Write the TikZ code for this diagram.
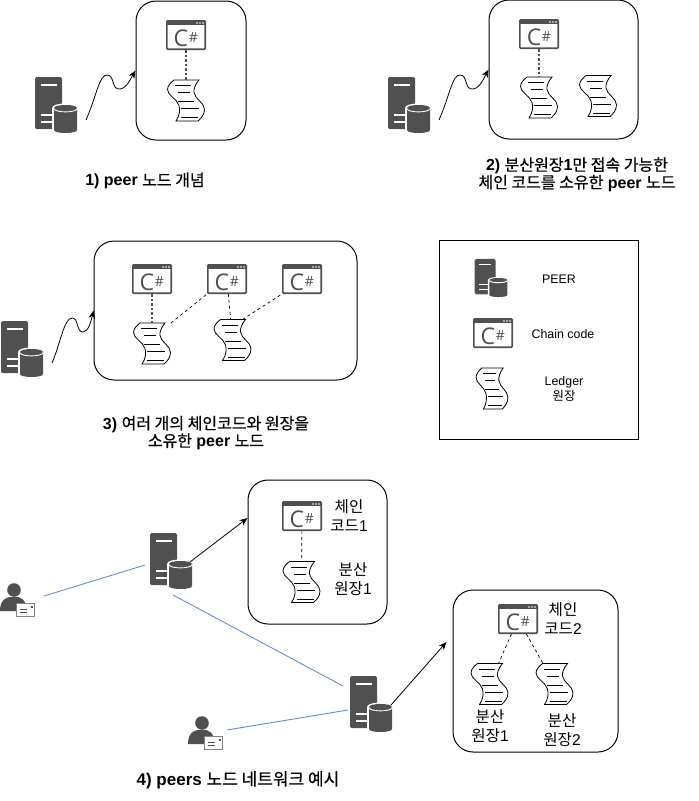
\documentclass[tikz,border=0pt]{standalone}
\usepackage{fontspec}
\setmainfont{Liberation Sans}
\newfontfamily\krfont{Noto Sans CJK KR}[BoldFont = {Noto Sans CJK KR}, BoldFeatures = {FakeBold = 0.5}]
\newfontfamily\iconfont{Open Sans}
\newcommand{\kr}[1]{{\krfont #1}}
\usetikzlibrary{arrows.meta}
\definecolor{icongrey}{HTML}{505050}
\definecolor{linkblue}{HTML}{6C8EBF}

\tikzset{
  panel/.style = {draw, line width = 1pt, rounded corners = 20pt, inner sep = 0pt},
  caption/.style = {align = center, font = \fontsize{16}{17.5}\selectfont\bfseries},
  legendtext/.style = {align = center, font = \fontsize{12.4}{14.5}\selectfont},
  boxtext/.style = {align = center, font = \fontsize{15.6}{19}\selectfont},
  dashlink/.style = {dashed, dash pattern = on 3pt off 3pt, line width = 0.7pt},
  greylink/.style = {dashlink, draw = icongrey, line width = 1.3pt, dash pattern = on 2.5pt off 2pt},
  bluelink/.style = {draw = linkblue, line width = 0.9pt},
  arrowlink/.style = {line width = 0.8pt, -{Stealth[length = 8pt, width = 6.5pt]}},
  iconbox/.style = {inner sep = 0pt, outer sep = 0pt},
  pics/peer/.style = {code = {
    \node (-b) [iconbox, minimum width = 42pt, minimum height = 56pt] at (0,0) {};
    \fill [icongrey, rounded corners = 1.5pt] (-21,-28) rectangle (6,24);
    \fill [white] (-15.5,-21) rectangle (0.5,-19);
    \fill [white] (-15.5,9) rectangle (-3,11);
    \fill [white] (-15.5,16) rectangle (-3,18);
    \fill [white] (-4,3) .. controls (-4,-3) and (23,-3) .. (23,3) -- (23,26) -- (-4,26) -- cycle;
    \fill [icongrey] (-2,3) .. controls (-2,-1) and (21,-1) .. (21,3) -- (21,25) .. controls (21,29) and (-2,29) .. (-2,25) -- cycle;
    \draw [white, line width = 0.9pt] (-2,3.5) .. controls (-2,8) and (21,8) .. (21,3.5);
  }},
  pics/csharp/.style = {code = {
    \node (-b) [iconbox, minimum width = 40pt, minimum height = 30pt] at (0,0) {};
    \draw [fill = white, draw = icongrey, line width = 1.6pt, rounded corners = 1pt] (-19.2,-14.2) rectangle (19.2,14.2);
    \fill [icongrey] (-19.2,-14.2) rectangle (19.2,-9.6);
    \foreach \dotx in {11,14,17} {\fill [white] (\dotx,-12) circle (0.8);}
    \node [iconbox, text = icongrey, font = \iconfont\fontsize{23}{23}\selectfont] at (-5,3) {C};
    \node [iconbox, text = icongrey, font = \iconfont\fontsize{14}{14}\selectfont] at (7.5,2) {\#};
  }},
  pics/ledger/.style = {code = {
    \node (-b) [iconbox, minimum width = 38pt, minimum height = 41pt] at (0,0) {};
    \draw [fill = white, line width = 0.8pt] (-12,-20.5) -- (13,-20.5)
      .. controls (9,-16) and (7.5,-11) .. (8,-8) .. controls (9,-1) and (18.5,2) .. (18.5,9)
      .. controls (18.5,14) and (15,18) .. (12,20.5) -- (-10,20.5)
      .. controls (-6,15) and (-6,9) .. (-7,5) .. controls (-9,-2) and (-18.5,-5) .. (-18.5,-11)
      .. controls (-18.5,-15) and (-15,-18) .. (-12,-20.5) -- cycle;
    \draw [line width = 0.8pt] (-11,-15) -- (5,-15);
    \draw [line width = 0.8pt] (-8,-8) -- (4,-8);
    \draw [line width = 0.8pt] (-8,1) -- (8,1);
    \draw [line width = 0.8pt] (-5,8) -- (13,8);
    \draw [line width = 0.8pt] (-5,17) -- (12,17);
  }},
  pics/client/.style = {code = {
    \node (-b) [iconbox, minimum width = 35pt, minimum height = 34pt] at (0,0) {};
    \fill [icongrey] (-3.5,-10) circle (6.8);
    \fill [icongrey] (-17.5,11) .. controls (-17.5,0) and (-12,-2) .. (-8,-3) -- (1,-3) .. controls (4,-2) and (7,0) .. (8,4) -- (-1,4) -- (-1,11) -- cycle;
    \draw [fill = white, draw = icongrey!70, line width = 1pt] (-1,3.5) rectangle (17,16);
    \fill [icongrey] (13,5.5) rectangle (15,7.5);
    \draw [icongrey, line width = 0.8pt] (2,9) -- (9,9);
    \draw [icongrey, line width = 0.8pt] (2,12) -- (9,12);
  }},
}

\begin{document}
\begin{tikzpicture}[x = 1pt, y = -1pt]
\useasboundingbox (0,0) rectangle (699,801);

\node (box1) [panel, minimum width = 110pt, minimum height = 139pt] at (191,70.5) {};
\node (box2) [panel, minimum width = 149pt, minimum height = 139pt] at (563.5,69.5) {};
\node (box3) [panel, minimum width = 263pt, minimum height = 139pt] at (225.5,310.5) {};
\node (box4) [panel, minimum width = 139pt, minimum height = 144pt] at (317.5,552) {};
\node (box5) [panel, minimum width = 165pt, minimum height = 162pt] at (535.5,671) {};
\node (legend) [draw, line width = 1pt, minimum width = 199pt, minimum height = 199pt] at (538.5,339.5) {};

\pic (srv1) at (56,105) {peer};
\pic (srv2) at (409,105) {peer};
\pic (srv3) at (22,349) {peer};
\pic (srv4) at (171,561) {peer};
\pic (srv5) at (371,704) {peer};
\pic (srvkey) [xscale = 0.78, yscale = 0.68] at (491,278) {peer};

\pic (cs1) at (186,35) {csharp};
\pic (cs2) at (539,34) {csharp};
\pic (cs3a) at (152,279) {csharp};
\pic (cs3b) at (227,279) {csharp};
\pic (cs3c) at (302,279) {csharp};
\pic (cs4) at (302,516) {csharp};
\pic (cs5) at (518,619) {csharp};
\pic (cskey) at (493,333) {csharp};

\pic (led1) at (186,100.5) {ledger};
\pic (led2a) at (539,97.5) {ledger};
\pic (led2b) at (598,96) {ledger};
\pic (led3a) at (152,343.5) {ledger};
\pic (led3b) at (232.5,340) {ledger};
\pic (led4) at (301.5,582) {ledger};
\pic (led5a) at (489.5,684) {ledger};
\pic (led5b) at (554.5,684) {ledger};
\pic (ledkey) [xscale = 0.86] at (492,388.5) {ledger};

\pic (usr1) at (17.5,600) {client};
\pic (usr2) at (205.5,733) {client};

\draw [greylink] (cs1-b) -- (led1-b);
\draw [greylink] (cs2-b) -- (led2a-b);
\draw [greylink] (cs3a-b) -- (led3a-b);
\draw [dashlink] (cs3b-b) -- (led3b-b);
\draw [dashlink] (led3a-b.north east) -- (cs3b-b.south west);
\draw [dashlink] ([xshift = -9pt]led3b-b.north east) -- (cs3c-b.south west);
\draw [dashlink] (cs4-b) -- (led4-b);
\draw [dashlink] (cs5-b) -- (led5a-b);
\draw [dashlink] (cs5-b) -- (led5b-b);

\draw [arrowlink] ([xshift = 9pt, yshift = -15pt]srv1-b.east) .. controls (97,95) and (99,75) .. (107,75) .. controls (115,75) and (111,90) .. (120,89) .. controls (127,88) and (131,78) .. (box1.west);
\draw [arrowlink] ([xshift = 9pt, yshift = -15pt]srv2-b.east) .. controls (450,95) and (452,75) .. (460,75) .. controls (468,75) and (464,90) .. (473,89) .. controls (480,88) and (484,78) .. (box2.west);
\draw [arrowlink] ([xshift = 9pt, yshift = -14pt]srv3-b.east) .. controls (60,345) and (64,318) .. (72,318) .. controls (79,318) and (76,332) .. (83,332) .. controls (88,332) and (91,322) .. (box3.west);
\draw [arrowlink] ([xshift = -2pt, yshift = -1pt]srv4-b.east) -- ([yshift = 34pt]box4.west);
\draw [arrowlink] ([xshift = -1pt, yshift = -1pt]srv5-b.east) -- ([xshift = -6pt, yshift = 29pt]box5.west);

\draw [bluelink] ([xshift = 9pt, yshift = 4pt]usr1-b.east) -- ([xshift = -5pt, yshift = -4pt]srv4-b.west);
\draw [bluelink] ([xshift = 2pt, yshift = -6pt]srv4-b.south) -- ([xshift = -7pt, yshift = 18pt]srv5-b.west);
\draw [bluelink] ([xshift = 4pt, yshift = 3pt]usr2-b.east) -- ([xshift = -2pt, yshift = -6pt]srv5-b.west);

\node (cap1) [caption] at (145,181) {1) peer \kr{노드 개념}};
\node (cap2) [caption] at (577,174.5) {2) \kr{분산원장}1\kr{만 접속 가능한}\\\kr{체인 코드를 소유한} peer \kr{노드}};
\node (cap3) [caption] at (206,433) {3) \kr{여러 개의 체인코드와 원장을}\\\kr{소유한} peer \kr{노드}};
\node (cap4) [caption, font = \fontsize{17}{18}\selectfont\bfseries] at (238,780) {4) peers \kr{노드 네트워크 예시}};

\node (keypeer) [legendtext] at (559,279) {PEER};
\node (keycode) [legendtext] at (563,334) {Chain code};
\node (keyledger) [legendtext] at (564,389) {Ledger\\\kr{원장}};

\node (txt4a) [boxtext] at (349,516) {\kr{체인}\\\kr{코드}1};
\node (txt4b) [boxtext] at (353,579) {\kr{분산}\\\kr{원장}1};
\node (txt5a) [boxtext] at (563,619) {\kr{체인}\\\kr{코드}2};
\node (txt5b) [boxtext] at (490,726) {\kr{분산}\\\kr{원장}1};
\node (txt5c) [boxtext] at (562,730) {\kr{분산}\\\kr{원장}2};
\end{tikzpicture}
\end{document}
